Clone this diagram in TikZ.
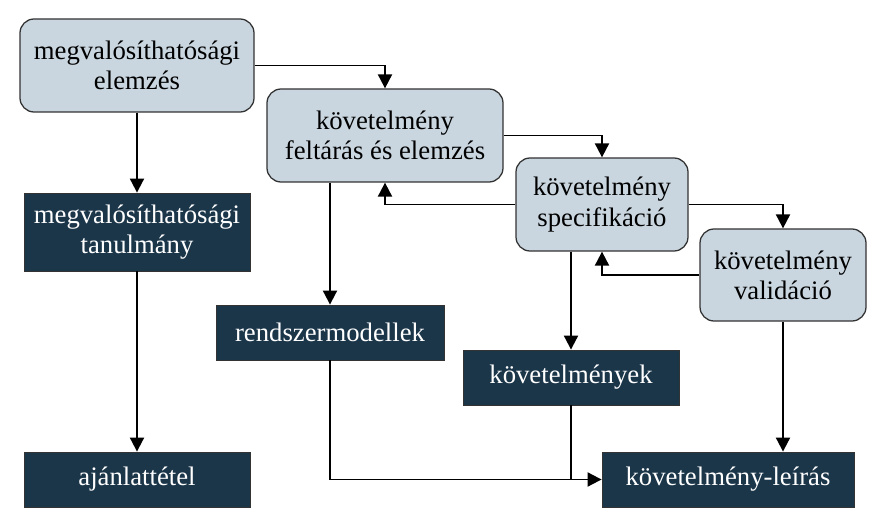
\documentclass[tikz,border=0pt]{standalone}
\usepackage{fontspec}
\setmainfont{Liberation Serif}
\usepackage{tikz}
\usetikzlibrary{arrows.meta,positioning}
\definecolor{procfill}{HTML}{C9D6DF}
\definecolor{docfill}{HTML}{1B3549}

\begin{document}
\begin{tikzpicture}[x=0.025cm, y=-0.025cm,
  every node/.style={font=\rmfamily\fontsize{19}{21.5}\selectfont, align=center, inner sep=0pt},
  procbox/.style={draw=black!80, line width=0.9pt, rounded corners=10pt, fill=procfill},
  docbox/.style={draw=black!80, line width=0.6pt, fill=docfill, text=white},
  arr/.style={-{Triangle[length=10pt,width=10pt]}, line width=1.4pt},
  line/.style={line width=1.4pt}
]
\useasboundingbox (0,0) rectangle (888,525);
% process steps
\node[procbox, minimum width=234*0.025cm, minimum height=93*0.025cm] (feas) at (137,65.5) {megvalósíthatósági\\elemzés};
\node[procbox, minimum width=236*0.025cm, minimum height=93*0.025cm] (elic) at (385,135.5) {követelmény\\feltárás és elemzés};
\node[procbox, minimum width=172*0.025cm, minimum height=93*0.025cm] (spec) at (602,204.5) {követelmény\\specifikáció};
\node[procbox, minimum width=166*0.025cm, minimum height=92*0.025cm] (valid) at (783,275) {követelmény\\validáció};
% documents
\node[docbox, minimum width=226*0.025cm, minimum height=78*0.025cm] (study) at (137,232) {megvalósíthatósági\\tanulmány};
\node[docbox, minimum width=228*0.025cm, minimum height=55*0.025cm] (models) at (330,332.5) {rendszermodellek};
\node[docbox, minimum width=216*0.025cm, minimum height=55*0.025cm] (reqs) at (571,377.5) {követelmények};
\node[docbox, minimum width=226*0.025cm, minimum height=55*0.025cm] (offer) at (137,479.5) {ajánlattétel};
\node[docbox, minimum width=252*0.025cm, minimum height=55*0.025cm] (reqdoc) at (728,479.5) {követelmény-leírás};

% forward flow
\draw[arr] (feas.east) -| (elic.north);
\draw[arr] (elic.east) -| (spec.north);
\draw[arr] (spec.east) -| (valid.north);
% feedback
\draw[arr] (spec.west) -| (elic.south);
\draw[arr] (valid.west) -| (spec.south);
% outputs
\draw[arr] (feas.south) -- (study.north);
\draw[arr] (study.south) -- (offer.north);
\draw[arr] (models.north |- elic.south) -- (models.north);
\draw[arr] (reqs.north |- spec.south) -- (reqs.north);
\draw[arr] (valid.south) -- (valid.south |- reqdoc.north);
\draw[arr] (models.south) |- (reqdoc.west);
\draw[line] (reqs.south) -- (reqs.south |- reqdoc.west);
\end{tikzpicture}
\end{document}
